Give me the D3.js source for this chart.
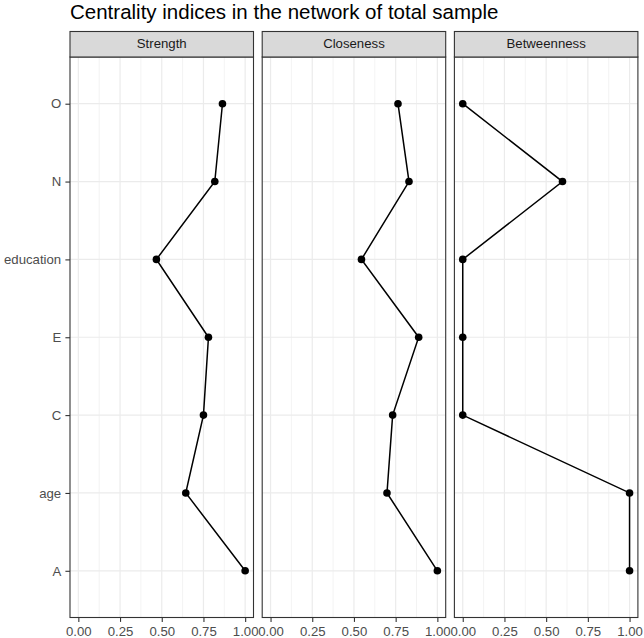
<!DOCTYPE html>
<html>
<head>
<meta charset="utf-8">
<script src="https://cdn.jsdelivr.net/npm/d3@7"></script>
<style>
  body { margin: 0; background: #fff; }
  text { font-family: "Liberation Sans", Arial, sans-serif; }
</style>
</head>
<body>
<div id="chart"></div>
<script>
// Data ///////////////////////////////////////////////////////////////////////

const nodes = ["O", "N", "education", "E", "C", "age", "A"];
const measures = ["Strength", "Closeness", "Betweenness"];

const strength    = [0.864, 0.818, 0.468, 0.780, 0.750, 0.644, 1.000];
const closeness   = [0.764, 0.830, 0.545, 0.888, 0.732, 0.698, 1.000];
const betweenness = [0.000, 0.598, 0.000, 0.000, 0.000, 1.000, 1.000];

const xTicks = [0, 0.25, 0.5, 0.75, 1];
const xMinor = [0.125, 0.375, 0.625, 0.875];

const series = [strength, closeness, betweenness];

// Layout /////////////////////////////////////////////////////////////////////

const params = {
    width: 644,
    height: 638,
    left: 70,
    panelWidth: 183.5,
    panelGap: 8.7,
    stripTop: 31.5,
    stripHeight: 25.5,
    panelBottom: 617.5,
    fontSize: 13.2
};
params.panelTop = params.stripTop + params.stripHeight;

const svg = d3.select("#chart")
    .append("svg")
        .attr("width", params.width)
        .attr("height", params.height)
        .attr("viewBox", [0, 0, params.width, params.height]);

const x = d3.scaleLinear()
    .domain([-0.05, 1.05])
    .range([0, params.panelWidth]);

const y = d3.scalePoint()
    .domain(nodes)
    .range([params.panelTop, params.panelBottom])
    .padding(0.6);

// Title
svg.append("text")
    .attr("x", params.left)
    .attr("y", 19)
    .attr("font-size", "20.5px")
    .attr("fill", "#000")
    .text("Centrality indices in the network of total sample");

// Panels /////////////////////////////////////////////////////////////////////

measures.forEach((m, i) => {
    const px = params.left + i * (params.panelWidth + params.panelGap);
    const g = svg.append("g").attr("transform", `translate(${px},0)`);
    const values = series[i];
    const ph = params.panelBottom - params.panelTop;

    // background
    g.append("rect")
        .attr("x", 0)
        .attr("y", params.panelTop)
        .attr("width", params.panelWidth)
        .attr("height", ph)
        .attr("fill", "#fff");

    // minor grid
    g.selectAll(".minor")
        .data(xMinor)
        .join("line")
        .attr("x1", d => x(d)).attr("x2", d => x(d))
        .attr("y1", params.panelTop).attr("y2", params.panelBottom)
        .attr("stroke", "#EBEBEB")
        .attr("stroke-width", 0.6);

    // major grid
    g.selectAll(".majorx")
        .data(xTicks)
        .join("line")
        .attr("x1", d => x(d)).attr("x2", d => x(d))
        .attr("y1", params.panelTop).attr("y2", params.panelBottom)
        .attr("stroke", "#EBEBEB")
        .attr("stroke-width", 1.2);

    g.selectAll(".majory")
        .data(nodes)
        .join("line")
        .attr("x1", 0).attr("x2", params.panelWidth)
        .attr("y1", d => y(d)).attr("y2", d => y(d))
        .attr("stroke", "#EBEBEB")
        .attr("stroke-width", 1.2);

    // line + points
    const pts = nodes.map((n, j) => ({ node: n, value: values[j] }));

    g.append("path")
        .datum(pts)
        .attr("fill", "none")
        .attr("stroke", "#000")
        .attr("stroke-width", 1.5)
        .attr("d", d3.line().x(d => x(d.value)).y(d => y(d.node)));

    g.selectAll(".pt")
        .data(pts)
        .join("circle")
        .attr("cx", d => x(d.value))
        .attr("cy", d => y(d.node))
        .attr("r", 3.8)
        .attr("fill", "#000");

    // panel border
    g.append("rect")
        .attr("x", 0)
        .attr("y", params.panelTop)
        .attr("width", params.panelWidth)
        .attr("height", ph)
        .attr("fill", "none")
        .attr("stroke", "#333333")
        .attr("stroke-width", 1.1);

    // strip
    g.append("rect")
        .attr("x", 0)
        .attr("y", params.stripTop)
        .attr("width", params.panelWidth)
        .attr("height", params.stripHeight)
        .attr("fill", "#D9D9D9")
        .attr("stroke", "#333333")
        .attr("stroke-width", 1.1);

    g.append("text")
        .attr("x", params.panelWidth / 2)
        .attr("y", 48)
        .attr("text-anchor", "middle")
        .attr("font-size", params.fontSize + "px")
        .attr("fill", "#1A1A1A")
        .text(m);

    // x axis
    const xAxis = d3.axisBottom(x)
        .tickValues(xTicks)
        .tickFormat(d3.format(".2f"))
        .tickSize(4.4)
        .tickPadding(5);

    const ax = g.append("g")
        .attr("transform", `translate(0,${params.panelBottom})`)
        .call(xAxis);
    ax.select(".domain").remove();
    ax.selectAll(".tick line").attr("stroke", "#333333").attr("stroke-width", 1.1);
    ax.selectAll(".tick text")
        .attr("fill", "#4D4D4D")
        .attr("font-size", params.fontSize + "px")
        .attr("font-family", "Liberation Sans, Arial, sans-serif");

    // y axis on first panel
    if (i === 0) {
        const yAxis = d3.axisLeft(y).tickSize(4.6).tickPadding(4.2);
        const ay = g.append("g").call(yAxis);
        ay.select(".domain").remove();
        ay.selectAll(".tick line").attr("stroke", "#333333").attr("stroke-width", 1.1);
        ay.selectAll(".tick text")
            .attr("fill", "#4D4D4D")
            .attr("font-size", params.fontSize + "px")
            .attr("font-family", "Liberation Sans, Arial, sans-serif");
    }
});
</script>
</body>
</html>
